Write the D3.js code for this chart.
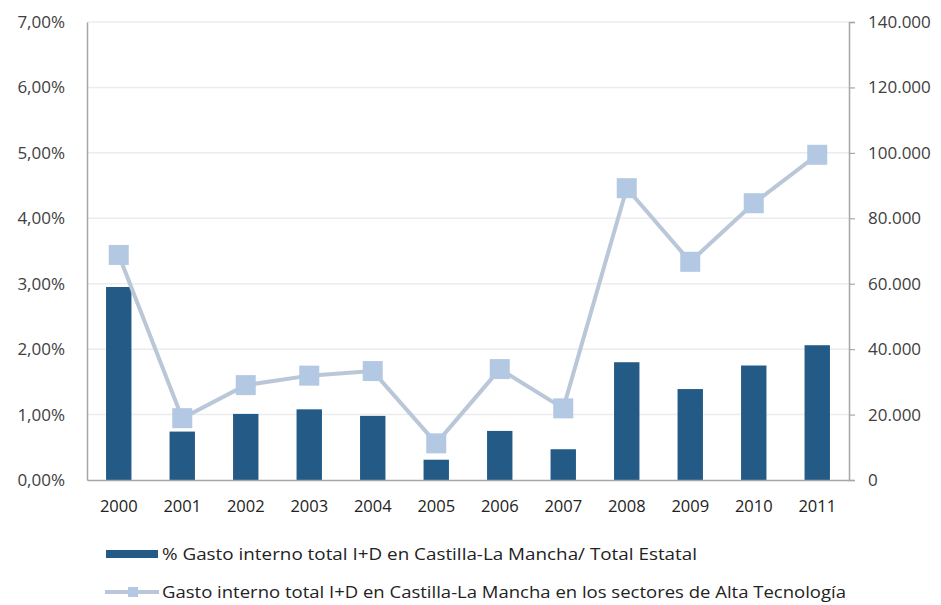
<!DOCTYPE html>
<html>
<head>
<meta charset="utf-8">
<script src="https://cdn.jsdelivr.net/npm/d3@7"></script>
<style>
  html, body { margin: 0; padding: 0; background: #fff; }
  svg { display: block; font-family: "Open Sans", "DejaVu Sans", sans-serif; }
</style>
</head>
<body>
<svg id="chart" width="941" height="605"></svg>
<script>
const years = ["2000","2001","2002","2003","2004","2005","2006","2007","2008","2009","2010","2011"];
const pctShare = [2.95, 0.74, 1.01, 1.08, 0.98, 0.31, 0.75, 0.47, 1.80, 1.39, 1.75, 2.06];
const highTech = [68800, 18900, 29000, 31900, 33300, 11200, 33900, 21900, 89200, 66700, 84600, 99400];
const leftTicks = [0, 1, 2, 3, 4, 5, 6, 7];
const rightTicks = [0, 20000, 40000, 60000, 80000, 100000, 120000, 140000];
const legendLabels = [
  "% Gasto interno total I+D en Castilla-La Mancha/ Total Estatal",
  "Gasto interno total I+D en Castilla-La Mancha en los sectores de Alta Tecnología"
];

const svg = d3.select("#chart");
const m = { left: 87, right: 849, top: 22, bottom: 480 };

const x = d3.scaleBand().domain(years).range([m.left, m.right]).paddingInner(0.6).paddingOuter(0.3);
const yL = d3.scaleLinear().domain([0, 7]).range([m.bottom, m.top]);
const yR = d3.scaleLinear().domain([0, 140000]).range([m.bottom, m.top]);

const barColor = "#245a86";
const lineColor = "#b9c7d9";
const markColor = "#b3c8e3";
const axisColor = "#a6a6a6";
const textColor = "#404040";

// gridlines
svg.append("g").selectAll("line").data(leftTicks.filter(d => d > 0)).join("line")
  .attr("x1", m.left).attr("x2", m.right)
  .attr("y1", d => yL(d)).attr("y2", d => yL(d))
  .attr("stroke", "#ececec").attr("stroke-width", 1.5);

// left axis
const fmtPct = d => d.toFixed(2).replace(".", ",") + "%";
const gL = svg.append("g").attr("transform", `translate(${m.left},0)`)
  .call(d3.axisLeft(yL).tickValues(leftTicks).tickFormat(fmtPct).tickSize(0).tickPadding(22));
gL.select(".domain").attr("stroke", axisColor).attr("stroke-width", 1.5);
gL.selectAll("text").attr("fill", textColor).style("font-size", "17px")
  .style("font-family", "'Open Sans', sans-serif");

// right axis
const fmtNum = d => d === 0 ? "0" : d3.format(",")(d).replace(/,/g, ".");
const gR = svg.append("g").attr("transform", `translate(${m.right},0)`)
  .call(d3.axisRight(yR).tickValues(rightTicks).tickFormat(fmtNum).tickSize(6).tickPadding(13));
gR.select(".domain").attr("stroke", axisColor).attr("stroke-width", 1.5);
gR.selectAll(".tick line").attr("stroke", axisColor).attr("stroke-width", 1.2);
gR.selectAll("text").attr("fill", textColor).style("font-size", "17px")
  .style("font-family", "'Open Sans', sans-serif");

// bars
svg.append("g").selectAll("rect").data(years).join("rect")
  .attr("x", d => x(d)).attr("width", x.bandwidth())
  .attr("y", (d, i) => yL(pctShare[i]))
  .attr("height", (d, i) => yL(0) - yL(pctShare[i]))
  .attr("fill", barColor);

// bottom axis
const gB = svg.append("g").attr("transform", `translate(0,${m.bottom})`)
  .call(d3.axisBottom(x).tickSize(0).tickPadding(20));
gB.select(".domain").attr("stroke", axisColor).attr("stroke-width", 1.5);
gB.selectAll("text").attr("fill", "#222").style("font-size", "16.5px")
  .style("font-family", "'Open Sans', sans-serif");

// line
const cx = d => x(d) + x.bandwidth() / 2;
const line = d3.line().x((d, i) => cx(years[i])).y(d => yR(d));
svg.append("path").datum(highTech)
  .attr("d", line).attr("fill", "none")
  .attr("stroke", lineColor).attr("stroke-width", 4).attr("stroke-linejoin", "round");
const ms = 20;
svg.append("g").selectAll("rect").data(highTech).join("rect")
  .attr("x", (d, i) => cx(years[i]) - ms / 2)
  .attr("y", d => yR(d) - ms / 2)
  .attr("width", ms).attr("height", ms)
  .attr("fill", markColor);

// legend
const lg = svg.append("g");
lg.append("rect").attr("x", 106).attr("y", 550).attr("width", 52).attr("height", 8).attr("fill", barColor);
lg.append("text").attr("x", 162).attr("y", 554).attr("dominant-baseline", "central")
  .attr("fill", "#222").style("font-size", "15.5px")
  .attr("textLength", 535).attr("lengthAdjust", "spacingAndGlyphs")
  .text(legendLabels[0]);
lg.append("line").attr("x1", 105).attr("x2", 159).attr("y1", 592).attr("y2", 592)
  .attr("stroke", lineColor).attr("stroke-width", 4);
lg.append("rect").attr("x", 128).attr("y", 587).attr("width", 10).attr("height", 10).attr("fill", markColor);
lg.append("text").attr("x", 162).attr("y", 592).attr("dominant-baseline", "central")
  .attr("fill", "#222").style("font-size", "15.5px")
  .attr("textLength", 684).attr("lengthAdjust", "spacingAndGlyphs")
  .text(legendLabels[1]);
</script>
</body>
</html>
